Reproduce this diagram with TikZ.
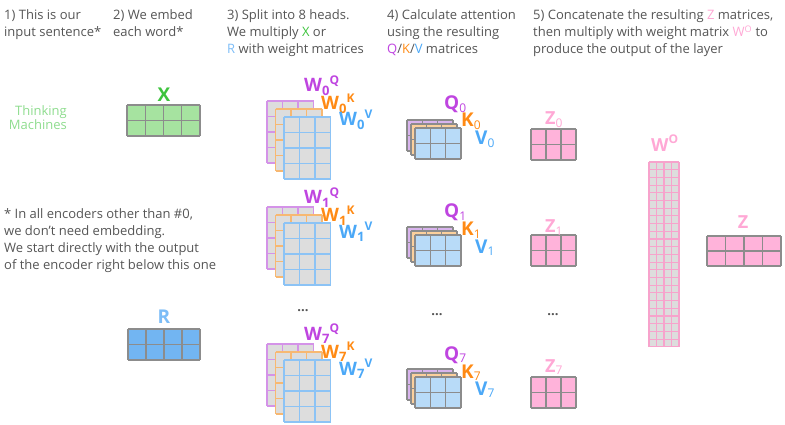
\documentclass[tikz,border=0pt]{standalone}
\usepackage{fontspec}
\setmainfont{Open Sans}
\definecolor{txtgray}{HTML}{555555}
\definecolor{cq}{HTML}{BF45E0}
\definecolor{ck}{HTML}{FF8A14}
\definecolor{cv}{HTML}{4BA8F7}
\definecolor{cqb}{HTML}{D493E8}
\definecolor{ckb}{HTML}{F7B872}
\definecolor{cvb}{HTML}{8CC3F5}
\definecolor{cqf}{HTML}{D9B4EE}
\definecolor{ckf}{HTML}{FBD09C}
\definecolor{cvf}{HTML}{B8DBF8}
\definecolor{cellgray}{HTML}{DDDDDD}
\definecolor{gridgray}{HTML}{8C8C8C}
\definecolor{cz}{HTML}{FFA8D5}
\definecolor{czf}{HTML}{FFB3DA}
\definecolor{czb}{HTML}{F7A3CC}
\definecolor{cx}{HTML}{3EC43E}
\definecolor{cxf}{HTML}{A6E3A0}
\definecolor{cr}{HTML}{7DBDF7}
\definecolor{crf}{HTML}{72B5F2}
\definecolor{cthink}{HTML}{8EDC8E}
% #1 x, #2 y, #3 cols, #4 rows, #5 cell w, #6 cell h, #7 fill, #8 line, #9 width
\newcommand{\gridmatw}[9]{%
  \fill[#7] (#1,#2) rectangle ++(#3*#5,#4*#6);
  \foreach \ii in {0,...,#3} \draw[#8,line width=#9] (#1+\ii*#5,#2) -- ++(0,#4*#6);
  \foreach \jj in {0,...,#4} \draw[#8,line width=#9] (#1,#2+\jj*#6) -- ++(#3*#5,0);
}
\newcommand{\gridmat}[8]{\gridmatw{#1}{#2}{#3}{#4}{#5}{#6}{#7}{#8}{1.2pt}}
\newcommand{\wstack}[2]{%
  \gridmatw{#1}{#2}{3}{4}{15.5}{15.5}{cellgray}{cqb}{1.5pt}
  \gridmatw{#1+8.5}{#2+8}{3}{4}{15.5}{15.5}{cellgray}{ckb}{1.5pt}
  \gridmatw{#1+17}{#2+16}{3}{4}{15.5}{15.5}{cellgray}{cvb}{1.5pt}
}
\newcommand{\qkvstack}[2]{%
  \gridmat{#1}{#2}{3}{2}{15.3}{15.5}{cqf}{gridgray}
  \gridmat{#1+4}{#2+4}{3}{2}{15.3}{15.5}{ckf}{gridgray}
  \gridmat{#1+8}{#2+8}{3}{2}{15.3}{15.5}{cvf}{gridgray}
}
\newcommand{\msub}[1]{\raisebox{-0.15em}{\fontsize{12}{12}\selectfont\mdseries #1}}
\newcommand{\wsub}[2]{\raisebox{-0.2em}{\fontsize{13}{13}\selectfont #1}\raisebox{0.42em}{\fontsize{12}{12}\selectfont #2}}
\begin{document}
\begin{tikzpicture}[x=1pt,y=-1pt]
\tikzset{
  hdr/.style={anchor=base west, inner sep=0pt, align=left, font=\fontsize{13}{17}\selectfont, text=txtgray},
  wlbl/.style={anchor=base west, inner sep=0pt, font=\fontsize{18.5}{20}\selectfont\bfseries},
  mlbl/.style={anchor=base west, inner sep=0pt, font=\fontsize{19}{20}\selectfont\bfseries},
  zlbl/.style={anchor=base west, inner sep=0pt, font=\fontsize{18}{20}\selectfont\bfseries, text=cz},
  dots/.style={inner sep=0pt, font=\fontsize{13}{13}\selectfont\bfseries, text=txtgray},
}
\useasboundingbox (0,0) rectangle (785,425);

% headers (anchor = baseline of last line)
\node[hdr] (h1) at (4,37) {1) This is our\\input sentence*};
\node[hdr] (h2) at (113,37) {2) We embed\\each word*};
\node[hdr] (h3) at (227,54) {3) Split into 8 heads.\\We multiply \textcolor{cx}{X} or\\\textcolor{cr}{R} with weight matrices};
\node[hdr] (h4) at (387,54) {4) Calculate attention\\using the resulting\\\textcolor{cq}{Q}/\textcolor{ck}{K}/\textcolor{cv}{V} matrices};
\node[hdr] (h5) at (533,54) {5) Concatenate the resulting \textcolor{cz}{Z} matrices,\\then multiply with weight matrix \textcolor{cz}{W\textsuperscript{O}} to\\produce the output of the layer};

% footnote
\node[hdr] (fn) at (4,269) {* In all encoders other than \#0,\\we don’t need embedding.\\We start directly with the output\\of the encoder right below this one};

% input sentence
\node[anchor=base east, inner sep=0pt, align=right, font=\fontsize{13}{14}\selectfont, text=cthink] (tm) at (67,130) {Thinking\\Machines};

% X and R
\gridmat{127}{105}{4}{2}{18.25}{15.5}{cxf}{gridgray}
\node[anchor=base, inner sep=0pt, font=\fontsize{19}{20}\selectfont\bfseries, text=cx] (xl) at (164,102) {X};
\gridmat{128}{329}{4}{2}{18}{15.5}{crf}{gridgray}
\node[anchor=base, inner sep=0pt, font=\fontsize{19}{20}\selectfont\bfseries, text=cr] (rl) at (164,323) {R};

% W stacks
\wstack{267}{101}
\node[wlbl,text=cq] (wq0) at (304,92) {W\wsub{0}{Q}};
\node[wlbl,text=ck] (wk0) at (321,110) {W\wsub{0}{K}};
\node[wlbl,text=cv] (wv0) at (339,126) {W\wsub{0}{V}};
\wstack{267}{207}
\node[wlbl,text=cq] (wq1) at (304,204) {W\wsub{1}{Q}};
\node[wlbl,text=ck] (wk1) at (321,222) {W\wsub{1}{K}};
\node[wlbl,text=cv] (wv1) at (339,238) {W\wsub{1}{V}};
\node[dots] (d1) at (303,311) {...};
\wstack{267}{344}
\node[wlbl,text=cq] (wq7) at (304,340) {W\wsub{7}{Q}};
\node[wlbl,text=ck] (wk7) at (321,358) {W\wsub{7}{K}};
\node[wlbl,text=cv] (wv7) at (339,375) {W\wsub{7}{V}};

% QKV stacks
\qkvstack{407}{120}
\node[mlbl,text=cq] (q0) at (444,110) {Q\msub{0}};
\node[mlbl,text=ck] (k0) at (461,127) {K\msub{0}};
\node[mlbl,text=cv] (v0) at (475,145) {V\msub{0}};
\qkvstack{407}{227}
\node[mlbl,text=cq] (q1) at (444,218) {Q\msub{1}};
\node[mlbl,text=ck] (k1) at (461,236) {K\msub{1}};
\node[mlbl,text=cv] (v1) at (475,253) {V\msub{1}};
\node[dots] (d2) at (437,315) {...};
\qkvstack{407}{369}
\node[mlbl,text=cq] (q7) at (444,360) {Q\msub{7}};
\node[mlbl,text=ck] (k7) at (461,378) {K\msub{7}};
\node[mlbl,text=cv] (v7) at (475,395) {V\msub{7}};

% Z matrices
\gridmat{531}{129}{3}{2}{15}{15.5}{czf}{gridgray}
\node[zlbl] (z0) at (545,125) {Z\msub{0}};
\gridmat{531}{235}{3}{2}{15}{15.5}{czf}{gridgray}
\node[zlbl] (z1) at (545,233) {Z\msub{1}};
\node[dots] (d3) at (553,315) {...};
\gridmat{531}{377}{3}{2}{15}{15.5}{czf}{gridgray}
\node[zlbl] (z7) at (545,372) {Z\msub{7}};

% W^O
\gridmatw{649}{162}{4}{24}{7.5}{7.7}{cellgray}{czb}{1.1pt}
\node[zlbl] (wo) at (651,152) {W\raisebox{0.45em}{\fontsize{12}{12}\selectfont O}};

% final Z
\gridmat{707}{236}{4}{2}{18.5}{15}{czf}{gridgray}
\node[anchor=base, inner sep=0pt, font=\fontsize{18}{20}\selectfont\bfseries, text=cz] (zf) at (743,228) {Z};
\end{tikzpicture}
\end{document}
